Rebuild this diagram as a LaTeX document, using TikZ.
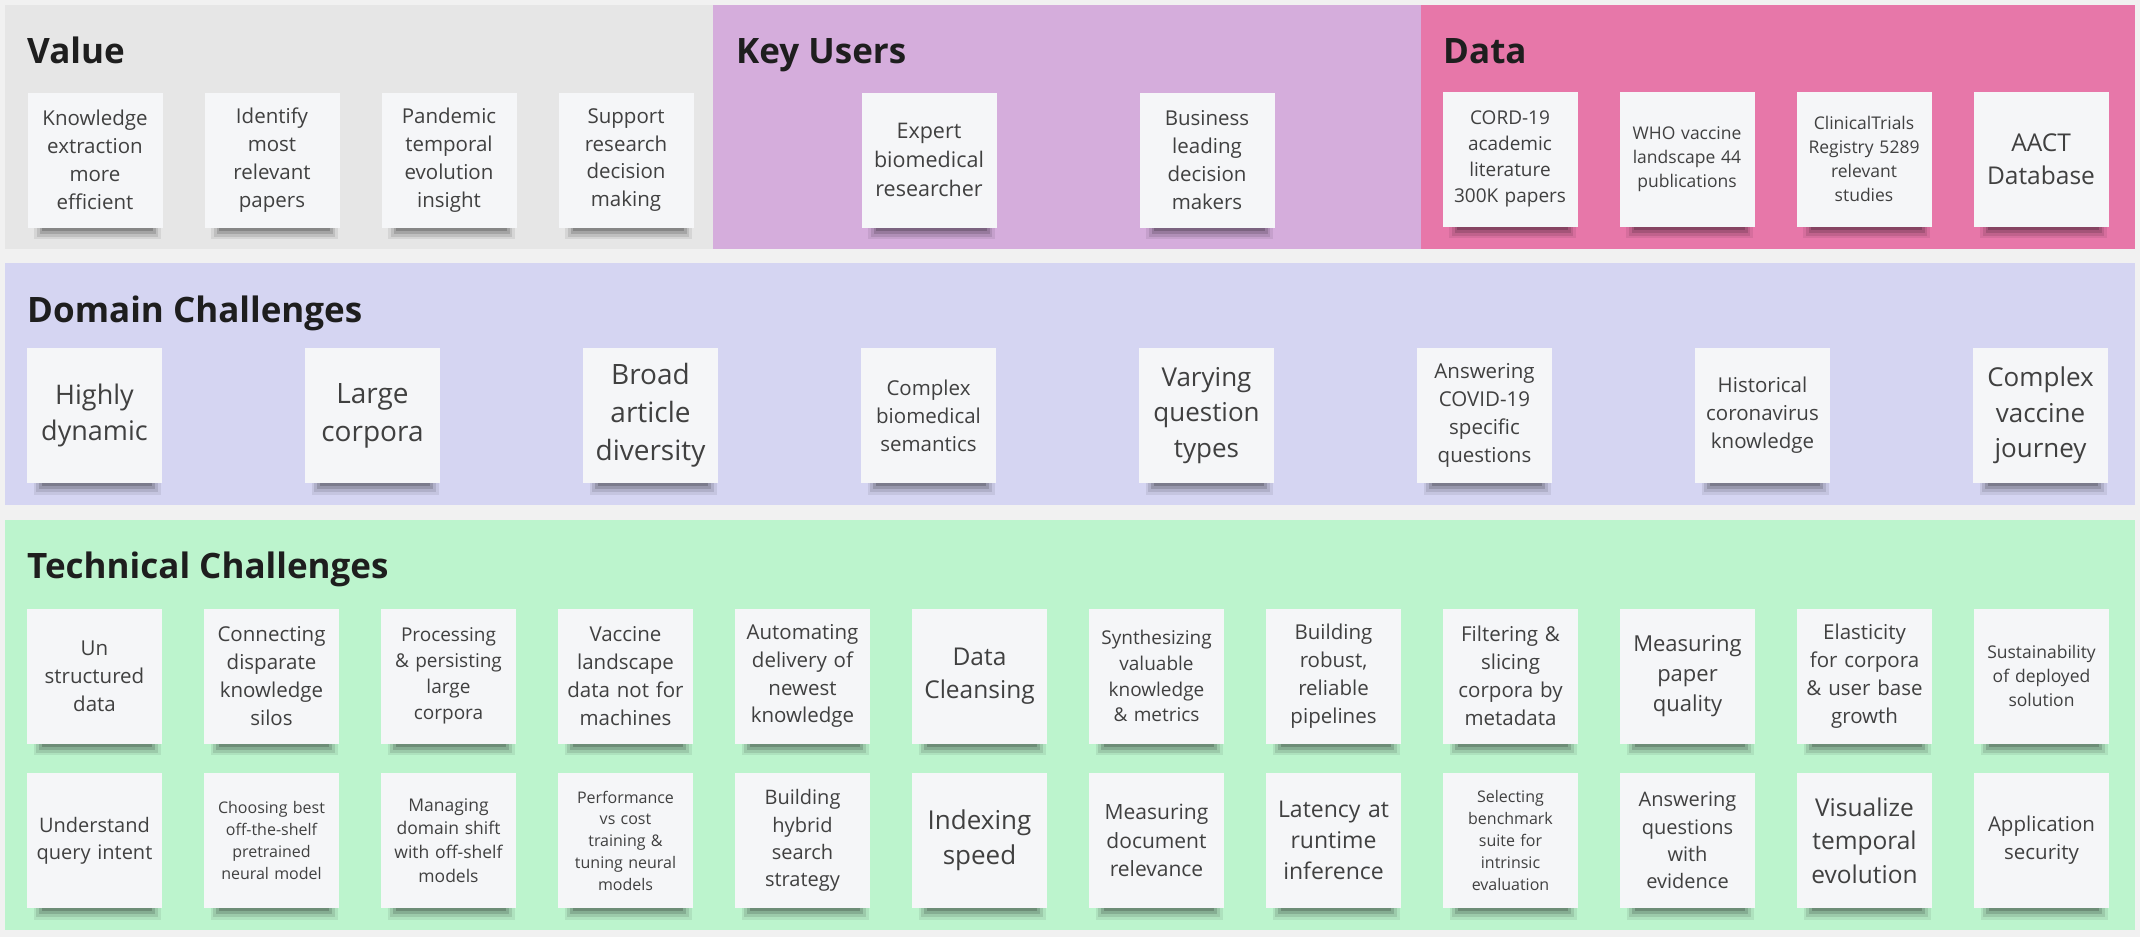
\documentclass[tikz,border=0pt]{standalone}
\usepackage{fontspec}
\setmainfont{Open Sans}
\usetikzlibrary{positioning, shadows}

\definecolor{pagebg}{HTML}{F1F1F1}
\definecolor{valuebg}{HTML}{E6E6E6}
\definecolor{usersbg}{HTML}{D5ADDC}
\definecolor{databg}{HTML}{E777A9}
\definecolor{domainbg}{HTML}{D5D5F2}
\definecolor{techbg}{HTML}{BCF4CD}
\definecolor{paper}{HTML}{F5F6F8}
\definecolor{ink}{HTML}{404040}
\definecolor{headink}{HTML}{1E1E1E}

\newcommand{\fsz}[1]{\fontsize{#1}{\fpeval{1.36*#1}}\selectfont}

\begin{document}
\begin{tikzpicture}[
    x=1pt, y=-1pt,
    node distance=177pt,
    on grid,
    panel/.style={anchor=north west, inner sep=0pt, outer sep=0pt},
    heading/.style={anchor=base west, inner sep=0pt, font=\fsz{35}\bfseries, text=headink},
    sticky/.style={fill=paper, minimum width=135pt, minimum height=135pt, text width=128pt,
        inner sep=0pt, align=center, text=ink, font=\fsz{20.5},
        general shadow={fill=black, opacity=.07, shadow scale=.94, shadow xshift=3pt, shadow yshift=-17pt},
        general shadow={fill=black, opacity=.10, shadow scale=.90, shadow xshift=3pt, shadow yshift=-17.5pt},
        general shadow={fill=black, opacity=.14, shadow scale=.86, shadow xshift=3pt, shadow yshift=-18pt},
        general shadow={fill=black, opacity=.18, shadow scale=.82, shadow xshift=3pt, shadow yshift=-18.5pt}}
]

\fill[pagebg] (0,0) rectangle (2140,937);
\useasboundingbox (0,0) rectangle (2140,937);

% -------------------------
% PANELS
% -------------------------
\node[panel, fill=valuebg, minimum width=708pt, minimum height=244pt] (valuePanel) at (5,5) {};
\node[panel, fill=usersbg, minimum width=708pt, minimum height=244pt] (usersPanel) at (713,5) {};
\node[panel, fill=databg, minimum width=714pt, minimum height=244pt] (dataPanel) at (1421,5) {};
\node[panel, fill=domainbg, minimum width=2130pt, minimum height=242pt] (domainPanel) at (5,263) {};
\node[panel, fill=techbg, minimum width=2130pt, minimum height=410pt] (techPanel) at (5,520) {};

\node[heading] (valueTitle) at (27,63) {Value};
\node[heading] (usersTitle) at (736,63) {Key Users};
\node[heading] (dataTitle) at (1443,63) {Data};
\node[heading] (domainTitle) at (27,322) {Domain Challenges};
\node[heading] (techTitle) at (27,578) {Technical Challenges};

% -------------------------
% VALUE / KEY USERS / DATA
% -------------------------
\node[sticky] (v1) at (95,160) {Knowledge\\ extraction\\ more\\ efficient};
\node[sticky] (v2) [right=of v1] {Identify\\ most\\ relevant\\ papers};
\node[sticky] (v3) [right=of v2] {Pandemic\\ temporal\\ evolution\\ insight};
\node[sticky] (v4) [right=of v3] {Support\\ research\\ decision\\ making};

\node[sticky, font=\fsz{21.5}] (u1) at (929,160) {Expert\\ biomedical\\ researcher};
\node[sticky] (u2) [right=278pt of u1] {Business\\ leading\\ decision\\ makers};

\node[sticky, font=\fsz{19}] (d1) at (1510,159) {CORD-19\\ academic\\ literature\\ 300K papers};
\node[sticky, font=\fsz{17.5}] (d2) [right=of d1] {WHO vaccine\\ landscape 44\\ publications};
\node[sticky, font=\fsz{17.5}] (d3) [right=of d2] {ClinicalTrials\\ Registry 5289\\ relevant\\ studies};
\node[sticky, font=\fsz{24.5}] (d4) [right=of d3] {AACT\\ Database};

% -------------------------
% DOMAIN CHALLENGES
% -------------------------
\node[sticky, font=\fsz{27}] (c1) at (94.5,415.5) {Highly\\ dynamic};
\node[sticky, font=\fsz{28}] (c2) [right=278pt of c1] {Large\\ corpora};
\node[sticky, font=\fsz{28}] (c3) [right=278pt of c2] {Broad\\ article\\ diversity};
\node[sticky] (c4) [right=278pt of c3] {Complex\\ biomedical\\ semantics};
\node[sticky, font=\fsz{26}] (c5) [right=278pt of c4] {Varying\\ question\\ types};
\node[sticky] (c6) [right=278pt of c5] {Answering\\ COVID-19\\ specific\\ questions};
\node[sticky] (c7) [right=278pt of c6] {Historical\\ coronavirus\\ knowledge};
\node[sticky, font=\fsz{26}] (c8) [right=278pt of c7] {Complex\\ vaccine\\ journey};

% -------------------------
% TECHNICAL CHALLENGES
% -------------------------
\node[sticky] (t1) at (94.5,676) {Un\\ structured\\ data};
\node[sticky] (t2) [right=of t1] {Connecting\\ disparate\\ knowledge\\ silos};
\node[sticky, font=\fsz{19}] (t3) [right=of t2] {Processing\\ \& persisting\\ large\\ corpora};
\node[sticky] (t4) [right=of t3] {Vaccine\\ landscape\\ data not for\\ machines};
\node[sticky] (t5) [right=of t4] {Automating\\ delivery of\\ newest\\ knowledge};
\node[sticky, font=\fsz{24.5}] (t6) [right=of t5] {Data\\ Cleansing};
\node[sticky, font=\fsz{19}] (t7) [right=of t6] {Synthesizing\\ valuable\\ knowledge\\ \& metrics};
\node[sticky] (t8) [right=of t7] {Building\\ robust,\\ reliable\\ pipelines};
\node[sticky] (t9) [right=of t8] {Filtering \&\\ slicing\\ corpora by\\ metadata};
\node[sticky, font=\fsz{22}] (t10) [right=of t9] {Measuring\\ paper\\ quality};
\node[sticky] (t11) [right=of t10] {Elasticity\\ for corpora\\ \& user base\\ growth};
\node[sticky, font=\fsz{17.5}] (t12) [right=of t11] {Sustainability\\ of deployed\\ solution};

\node[sticky, font=\fsz{20}] (s1) [below=164.5pt of t1] {Understand\\ query intent};
\node[sticky, font=\fsz{16}] (s2) [right=of s1] {Choosing best\\ off-the-shelf\\ pretrained\\ neural model};
\node[sticky, font=\fsz{17.5}] (s3) [right=of s2] {Managing\\ domain shift\\ with off-shelf\\ models};
\node[sticky, font=\fsz{16}] (s4) [right=of s3] {Performance\\ vs cost\\ training \&\\ tuning neural\\ models};
\node[sticky, font=\fsz{20}] (s5) [right=of s4] {Building\\ hybrid\\ search\\ strategy};
\node[sticky, font=\fsz{26}] (s6) [right=of s5] {Indexing\\ speed};
\node[sticky, font=\fsz{21}] (s7) [right=of s6] {Measuring\\ document\\ relevance};
\node[sticky, font=\fsz{23}] (s8) [right=of s7] {Latency at\\ runtime\\ inference};
\node[sticky, font=\fsz{16}] (s9) [right=of s8] {Selecting\\ benchmark\\ suite for\\ intrinsic\\ evaluation};
\node[sticky, font=\fsz{20}] (s10) [right=of s9] {Answering\\ questions\\ with\\ evidence};
\node[sticky, font=\fsz{24.5}] (s11) [right=of s10] {Visualize\\ temporal\\ evolution};
\node[sticky] (s12) [right=of s11] {Application\\ security};

\end{tikzpicture}
\end{document}
